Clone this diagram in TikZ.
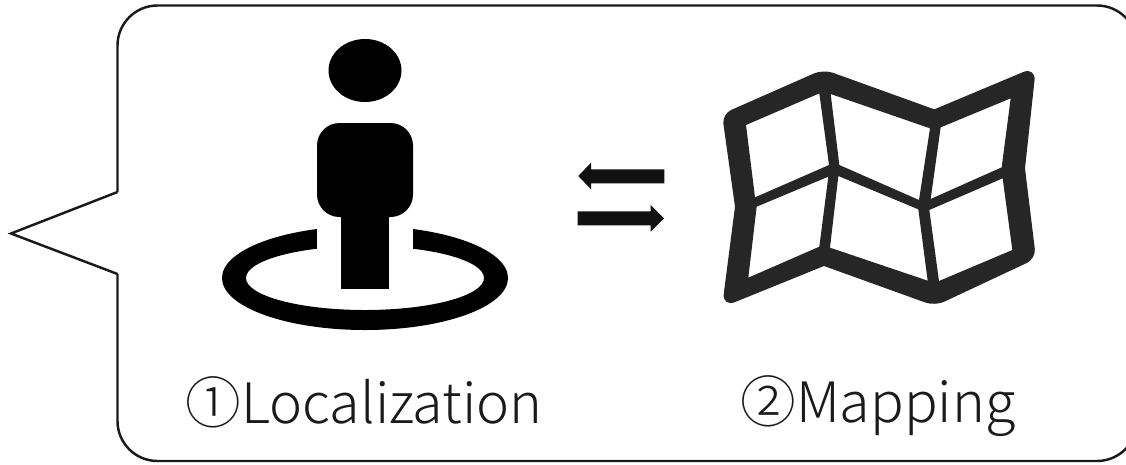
\documentclass[tikz,border=0pt]{standalone}
\usepackage{fontspec}
\setmainfont{Noto Sans CJK JP Light}
\usetikzlibrary{positioning}
\definecolor{bubbleink}{HTML}{1A1A1A}
\definecolor{mapink}{HTML}{262626}
\definecolor{arrowink}{HTML}{111111}
\tikzset{
    caption/.style={anchor=base west,inner sep=0pt,text=bubbleink,font=\fontsize{31.7}{32}\selectfont},
}

\begin{document}
\begin{tikzpicture}[x=0.02cm,y=-0.02cm]
\useasboundingbox (0,0) rectangle (1126,464);
\clip (0,0) rectangle (1126,464);

% speech bubble
\draw[bubbleink,line width=1.4pt,rounded corners=0.8cm]
    (117.5,192) -- (117.5,5.5) -- (1137,5.5) -- (1137,461) -- (117.5,461) -- (117.5,274);
\draw[bubbleink,line width=1.4pt,line join=miter] (117.5,192) -- (11,233.5) -- (117.5,274);

% person on the ring
\fill[black,even odd rule] (365,278) ellipse [x radius=143,y radius=52]
    (365,278) ellipse [x radius=119,y radius=32];
\fill[white] (317,218) rectangle (413,292);
\fill[black] (365,70.5) ellipse [x radius=36.5,y radius=31.5];
\fill[black,rounded corners=0.45cm] (317,123) rectangle (413,217);
\fill[black] (341,200) rectangle (389,289);

% two arrows
\fill[arrowink] (578.3,176) -- (591,162.7) -- (591,169.3) -- (664.3,169.3) -- (664.3,183.3)
    -- (591,183.3) -- (591,189.3) -- cycle;
\fill[arrowink] (664,218.3) -- (650.7,205) -- (650.7,211.3) -- (577.7,211.3) -- (577.7,225.3)
    -- (650.7,225.3) -- (650.7,231.7) -- cycle;

% folded map
\begin{scope}[shift={(700,50)},scale=1/3]
\fill[mapink,even odd rule]
    [rounded corners=0.2cm] (66,192) -- (370,58) [sharp corners] -- (703,178)
    [rounded corners=0.28cm] -- (1008,50) [sharp corners] -- (975,355)
    [rounded corners=0.2cm] -- (1008,626) -- (705,768) [sharp corners] -- (372,648)
    [rounded corners=0.28cm] -- (66,772) [sharp corners] -- (105,470)
    [rounded corners=0.2cm] -- cycle
    [sharp corners]
    (138,225) -- (358,130) -- (387,345) -- (165,442) -- cycle
    (392,132) -- (690,235) -- (657,450) -- (418,345) -- cycle
    (722,232) -- (932,145) -- (905,352) -- (692,447) -- cycle
    (170,470) -- (385,380) -- (358,590) -- (145,683) -- cycle
    (415,378) -- (655,478) -- (683,692) -- (390,593) -- cycle
    (688,480) -- (908,385) -- (937,600) -- (717,693) -- cycle;
\end{scope}

% labels
\node[caption] (localization) at (185,423) {①Localization};
\node[caption] (mapping) at (740,422) {②Mapping};
\end{tikzpicture}
\end{document}
